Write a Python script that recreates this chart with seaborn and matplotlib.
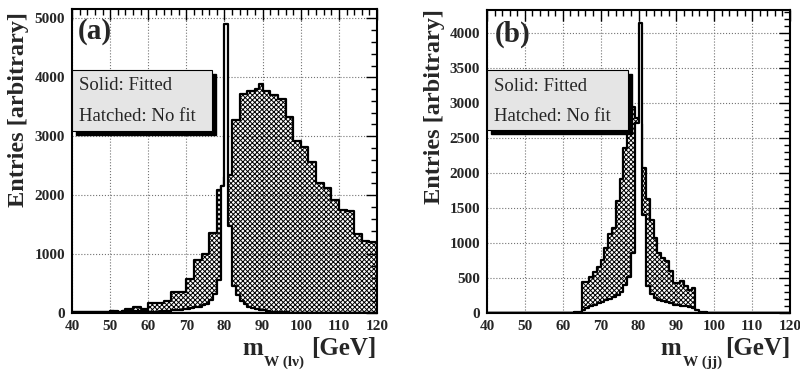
import numpy as np
import pandas as pd
import matplotlib
matplotlib.use("Agg")
import matplotlib.pyplot as plt
import seaborn as sns
from matplotlib.ticker import MultipleLocator
from matplotlib.patches import Rectangle

# ---------------- data (1 GeV bins, 40..120 GeV) ----------------
bin_edges = list(range(40, 121))

nofit_a = [15, 15, 20, 20, 25, 25, 20, 20, 25, 25,
           30, 30, 25, 30, 63, 63, 97, 97, 70, 70,
           165, 165, 170, 170, 205, 205, 350, 350, 360, 360,
           570, 570, 900, 900, 1000, 1000, 1360, 1360, 2080, 2150,
           2300, 2340, 3270, 3270, 3720, 3720, 3760, 3770, 3810, 3880,
           3770, 3770, 3700, 3700, 3630, 3630, 3320, 3320, 2920, 2920,
           2810, 2810, 2570, 2570, 2215, 2215, 2130, 2130, 1910, 1910,
           1740, 1740, 1730, 1730, 1345, 1345, 1230, 1230, 1200, 1200]
fitted_a = [15, 15, 20, 20, 20, 25, 25, 20, 20, 25,
            30, 25, 25, 30, 30, 30, 35, 35, 40, 40,
            15, 20, 25, 30, 35, 40, 45, 50, 55, 60,
            70, 80, 95, 110, 130, 160, 220, 330, 560, 2150,
            4900, 1470, 450, 300, 200, 150, 110, 90, 70, 55,
            45, 35, 25, 20, 15, 12, 10, 8, 6, 5,
            4, 4, 3, 3, 2, 2, 2, 1, 1, 1,
            1, 1, 0, 0, 0, 0, 0, 0, 0, 0]

nofit_b = [0, 0, 0, 0, 0, 0, 0, 0, 0, 0,
           0, 0, 0, 0, 0, 0, 0, 0, 0, 0,
           0, 0, 0, 0, 0, 440, 440, 519, 590, 662,
           757, 924, 1124, 1219, 1600, 1910, 2353, 2950, 2950, 2790,
           2700, 2076, 1624, 1329, 1076, 857, 786, 748, 595, 429,
           429, 452, 381, 333, 357, 0, 0, 0, 0, 0,
           0, 0, 0, 0, 0, 0, 0, 0, 0, 0,
           0, 0, 0, 0, 0, 0, 0, 0, 0, 0]
fitted_b = [0, 0, 0, 0, 0, 0, 0, 0, 0, 0,
            0, 0, 0, 0, 0, 0, 0, 0, 0, 0,
            1, 2, 4, 8, 15, 45, 75, 100, 120, 140,
            160, 180, 200, 230, 260, 300, 400, 520, 860, 2720,
            4140, 1400, 380, 270, 214, 180, 170, 160, 150, 110,
            110, 100, 95, 85, 71, 43, 20, 8, 3, 1,
            0, 0, 0, 0, 0, 0, 0, 0, 0, 0,
            0, 0, 0, 0, 0, 0, 0, 0, 0, 0]

legend_lines = ["Solid: Fitted", "Hatched: No fit"]
y_label = "Entries [arbitrary]"

# ---------------- style ----------------
sns.set_theme(style="white")
plt.rcParams["font.family"] = ["Liberation Serif", "DejaVu Serif"]
plt.rcParams["font.weight"] = "bold"
plt.rcParams["hatch.linewidth"] = 0.7
plt.rcParams["hatch.color"] = "black"

W, H = 800, 374
fig = plt.figure(figsize=(W / 100, H / 100), dpi=100)


def px_rect(l, r, t, b):
    return [l / W, 1 - b / H, (r - l) / W, (b - t) / H]


def panel(rect, nofit, fitted, ymax, ymaj, ymin, tag, box):
    ax = fig.add_axes(rect)
    centers = [e + 0.5 for e in bin_edges[:-1]]
    df = pd.DataFrame({"m": centers, "nofit": nofit, "fitted": fitted})
    sns.histplot(data=df, x="m", weights="nofit", bins=bin_edges, element="step",
                 fill=True, color="black", linewidth=1.6,
                 alpha=1, ax=ax, zorder=3)
    hatched = ax.collections[-1]
    hatched.set_facecolor("none")
    hatched.set_edgecolor("black")
    hatched.set_hatch("xxxxxxx")
    sns.histplot(data=df, x="m", weights="fitted", bins=bin_edges, element="step",
                 fill=True, color="black", linewidth=1.6,
                 alpha=1, ax=ax, zorder=4)
    solid = ax.collections[-1]
    solid.set_facecolor("white")
    solid.set_edgecolor("black")
    ax.set_xlim(40, 120)
    ax.set_ylim(0, ymax)
    ax.set_xlabel("")
    ax.set_ylabel("")
    ax.xaxis.set_major_locator(MultipleLocator(10))
    ax.xaxis.set_minor_locator(MultipleLocator(2))
    ax.yaxis.set_major_locator(MultipleLocator(ymaj))
    ax.yaxis.set_minor_locator(MultipleLocator(ymin))
    ax.grid(True, which="major", linestyle=":", color="0.45", linewidth=0.8)
    ax.set_axisbelow(True)
    ax.tick_params(which="both", direction="in", top=True, right=True,
                   color="black", labelsize=11, pad=5)
    ax.tick_params(which="major", length=8, width=1.0)
    ax.tick_params(which="minor", length=4, width=1.0)
    for s in ax.spines.values():
        s.set_linewidth(1.5)
        s.set_color("black")
        s.set_visible(True)
        s.set_zorder(6)
    # tag
    ax.text(box["tagx"], box["tagy"], tag, transform=ax.transAxes,
            fontsize=21, fontweight="bold", ha="left", va="center", zorder=8)
    # legend box with shadow
    x0, x1, y0, y1 = box["rect"]
    ax.add_patch(Rectangle((x0 + 0.014, y0 - 0.014), x1 - x0, y1 - y0,
                           transform=ax.transAxes, facecolor="black",
                           edgecolor="black", zorder=9, clip_on=False))
    ax.add_patch(Rectangle((x0, y0), x1 - x0, y1 - y0, transform=ax.transAxes,
                           facecolor="#e5e5e5", edgecolor="black", linewidth=0.8,
                           zorder=10, clip_on=False))
    for txt, yy in zip(legend_lines, box["texty"]):
        ax.text(x0 + 0.022, yy, txt, transform=ax.transAxes, fontsize=13.5,
                fontweight="normal", ha="left", va="center", zorder=11)
    return ax


ax_a = panel(px_rect(72, 377, 9, 313), nofit_a, fitted_a, 5160, 1000, 200, "(a)",
             {"tagx": 0.02, "tagy": 0.925, "rect": (0.0, 0.459, 0.599, 0.799),
              "texty": (0.747, 0.648)})
ax_b = panel(px_rect(487, 790, 10, 313), nofit_b, fitted_b, 4330, 500, 100, "(b)",
             {"tagx": 0.024, "tagy": 0.92, "rect": (0.0, 0.465, 0.604, 0.802),
              "texty": (0.749, 0.649)})

# y labels
fig.text(19 / W, 1 - 12 / H, y_label, rotation=90, ha="center", va="top",
         fontsize=17.5, fontweight="bold")
fig.text(435 / W, 1 - 9 / H, y_label, rotation=90, ha="center", va="top",
         fontsize=17.5, fontweight="bold")

# x labels (m with subscript, [GeV])
base = 1 - 355 / H
sub = 1 - 366 / H
fig.text(242 / W, base, "m", fontsize=18, fontweight="bold", ha="left", va="baseline")
fig.text(264 / W, sub, "W (lν)", fontsize=11, fontweight="bold", ha="left", va="baseline")
fig.text(376 / W, base, "[GeV]", fontsize=18, fontweight="bold", ha="right", va="baseline")
fig.text(660 / W, base, "m", fontsize=18, fontweight="bold", ha="left", va="baseline")
fig.text(683 / W, sub, "W (jj)", fontsize=11, fontweight="bold", ha="left", va="baseline")
fig.text(790 / W, base, "[GeV]", fontsize=18, fontweight="bold", ha="right", va="baseline")

fig.savefig("out.png", dpi=100)
